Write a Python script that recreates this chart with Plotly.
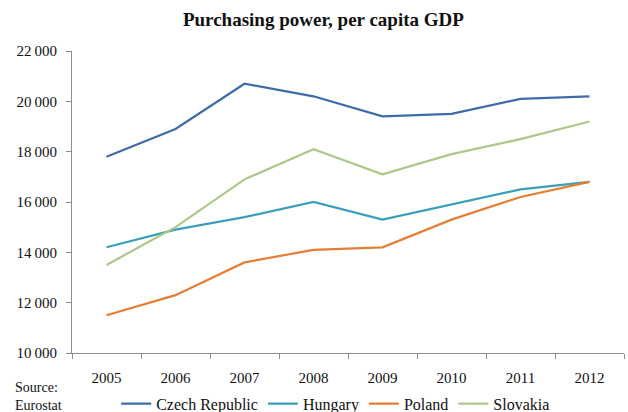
import plotly.graph_objects as go

years = ["2005", "2006", "2007", "2008", "2009", "2010", "2011", "2012"]
czech = [17800, 18900, 20700, 20200, 19400, 19500, 20100, 20200]
hungary = [14200, 14900, 15400, 16000, 15300, 15900, 16500, 16800]
poland = [11500, 12300, 13600, 14100, 14200, 15300, 16200, 16800]
slovakia = [13500, 15000, 16900, 18100, 17100, 17900, 18500, 19200]

y_ticks = [10000, 12000, 14000, 16000, 18000, 20000, 22000]
y_tick_text = ["10\u2009000", "12\u2009000", "14\u2009000", "16\u2009000",
               "18\u2009000", "20\u2009000", "22\u2009000"]

series = [
    ("Czech Republic", czech, "#3F6CA9"),
    ("Hungary", hungary, "#3A9FB8"),
    ("Poland", poland, "#E57E35"),
    ("Slovakia", slovakia, "#ADC78A"),
]

FONT = "Liberation Serif"

fig = go.Figure()
for name, vals, color in series:
    fig.add_trace(go.Scatter(
        x=years, y=vals, name=name, mode="lines",
        line=dict(color=color, width=2.2),
    ))

fig.update_layout(
    width=628, height=412,
    margin=dict(l=72, r=4, t=51, b=59, autoexpand=False),
    paper_bgcolor="white", plot_bgcolor="white",
    font=dict(family=FONT, size=15, color="#111111"),
    title=dict(
        text="<b>Purchasing power, per capita GDP</b>",
        x=0.515, xanchor="center", y=0.952, yanchor="middle",
        font=dict(family=FONT, size=19, color="#111111"),
    ),
    showlegend=True,
    legend=dict(
        orientation="h", x=0.08, xanchor="left",
        yref="container", y=0.02, yanchor="middle",
        font=dict(family=FONT, size=16), itemwidth=30,
        tracegroupgap=0, bgcolor="rgba(0,0,0,0)",
    ),
    xaxis=dict(
        type="category", range=[-0.5, 7.5], showgrid=False, showline=True,
        linecolor="#8C8C8C", linewidth=1, ticks="outside",
        tickson="boundaries", ticklen=5, tickcolor="#8C8C8C", zeroline=False,
        ticklabelstandoff=11, automargin=False,
        tickfont=dict(family=FONT, size=15),
    ),
    yaxis=dict(
        range=[10000, 22000], tickvals=y_ticks, ticktext=y_tick_text,
        showgrid=False, showline=True, linecolor="#8C8C8C", linewidth=1,
        ticks="outside", ticklen=5, tickcolor="#8C8C8C", zeroline=False,
        ticklabelstandoff=6, automargin=False,
        tickfont=dict(family=FONT, size=15),
    ),
    annotations=[
        dict(text="Source:<br>Eurostat", xref="paper", yref="paper",
             x=-0.106, y=-0.082, xanchor="left", yanchor="top",
             align="left", showarrow=False,
             font=dict(family=FONT, size=14, color="#111111")),
    ],
)

fig.write_html("out.html")
